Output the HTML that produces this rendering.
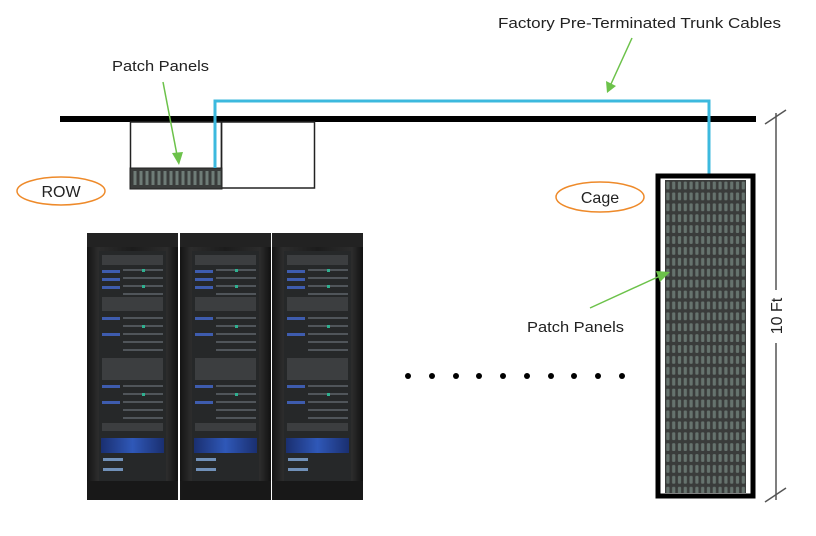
<!DOCTYPE html>
<html><head><meta charset="utf-8"><style>
html,body{margin:0;padding:0;background:#fff;}
svg{display:block;}
text{font-family:"Liberation Sans",sans-serif;fill:#222;}
</style></head><body>
<svg width="816" height="536" viewBox="0 0 816 536" xmlns="http://www.w3.org/2000/svg">
<defs>
  <pattern id="cage" x="665" y="180" width="5.8" height="10.9" patternUnits="userSpaceOnUse">
    <rect width="5.8" height="10.9" fill="#3a3c3b"/>
    <rect x="1.3" y="1.6" width="3.2" height="7.8" rx="1" fill="#66736e"/>
  </pattern>
  <pattern id="pp" x="132" y="168" width="6" height="20" patternUnits="userSpaceOnUse">
    <rect width="6" height="20" fill="#3a3c3b"/>
    <rect x="1.5" y="3" width="3" height="14" fill="#6f7c77"/>
  </pattern>
  <linearGradient id="rackg" x1="0" x2="1" y1="0" y2="0">
    <stop offset="0" stop-color="#141414"/><stop offset="0.12" stop-color="#2c2c2c"/>
    <stop offset="0.5" stop-color="#1c1c1c"/><stop offset="0.88" stop-color="#2c2c2c"/><stop offset="1" stop-color="#111"/>
  </linearGradient>
  <linearGradient id="blue" x1="0" x2="1"><stop offset="0" stop-color="#1a2f70"/><stop offset="0.5" stop-color="#2f58b8"/><stop offset="1" stop-color="#1a2f70"/></linearGradient>
  <g id="rack">
    <rect x="0" y="0" width="91" height="267" fill="url(#rackg)"/>
    <rect x="0" y="0" width="91" height="14" fill="#222"/>
    <rect x="12" y="18" width="67" height="230" fill="#262829"/>
    <g fill="#3c3e40">
      <rect x="15" y="22" width="61" height="10"/>
      <rect x="15" y="64" width="61" height="14"/>
      <rect x="15" y="125" width="61" height="22"/>
      <rect x="15" y="190" width="61" height="8"/>
    </g>
    <g fill="#3e5cae">
      <rect x="15" y="37" width="18" height="3"/><rect x="15" y="45" width="18" height="3"/><rect x="15" y="53" width="18" height="3"/>
      <rect x="15" y="84" width="18" height="3"/><rect x="15" y="100" width="18" height="3"/>
      <rect x="15" y="152" width="18" height="3"/><rect x="15" y="168" width="18" height="3"/>
    </g>
    <g fill="#50555a">
      <rect x="36" y="36" width="40" height="2"/><rect x="36" y="44" width="40" height="2"/><rect x="36" y="52" width="40" height="2"/><rect x="36" y="60" width="40" height="2"/>
      <rect x="36" y="84" width="40" height="2"/><rect x="36" y="92" width="40" height="2"/><rect x="36" y="100" width="40" height="2"/><rect x="36" y="108" width="40" height="2"/><rect x="36" y="116" width="40" height="2"/>
      <rect x="36" y="152" width="40" height="2"/><rect x="36" y="160" width="40" height="2"/><rect x="36" y="168" width="40" height="2"/><rect x="36" y="176" width="40" height="2"/><rect x="36" y="184" width="40" height="2"/>
    </g>
    <g fill="#2fb090"><rect x="55" y="36" width="3" height="3"/><rect x="55" y="52" width="3" height="3"/><rect x="55" y="92" width="3" height="3"/><rect x="55" y="160" width="3" height="3"/></g>
    <rect x="14" y="205" width="63" height="15" fill="url(#blue)"/>
    <rect x="16" y="225" width="20" height="3" fill="#7090b8"/><rect x="16" y="235" width="20" height="3" fill="#7090b8"/>
    <rect x="0" y="248" width="91" height="19" fill="#181818"/>
  </g>
</defs>

<rect x="60" y="116" width="696" height="6" fill="#000"/>
<rect x="130.5" y="122" width="91" height="66" fill="none" stroke="#222" stroke-width="1.5"/>
<rect x="221.5" y="122" width="93" height="66" fill="none" stroke="#222" stroke-width="1.5"/>
<rect x="130" y="168" width="92" height="21" fill="url(#pp)" stroke="#222" stroke-width="1"/>
<polyline points="215,168 215,101 709,101 709,175" fill="none" stroke="#3cb9de" stroke-width="3"/>

<rect x="658" y="176" width="95" height="320" fill="#fff" stroke="#000" stroke-width="5"/>
<rect x="665" y="180" width="81" height="313" fill="url(#cage)"/>

<use href="#rack" x="87" y="233"/>
<use href="#rack" x="180" y="233"/>
<use href="#rack" x="272" y="233"/>

<g fill="#000">
  <circle cx="408" cy="376" r="3"/><circle cx="432" cy="376" r="3"/><circle cx="456" cy="376" r="3"/><circle cx="479" cy="376" r="3"/><circle cx="503" cy="376" r="3"/>
  <circle cx="527" cy="376" r="3"/><circle cx="551" cy="376" r="3"/><circle cx="574" cy="376" r="3"/><circle cx="598" cy="376" r="3"/><circle cx="622" cy="376" r="3"/>
</g>

<ellipse cx="61" cy="191" rx="44" ry="14" fill="none" stroke="#ee8a2a" stroke-width="1.5"/>
<text x="61" y="197" font-size="16" text-anchor="middle">ROW</text>
<ellipse cx="600" cy="197" rx="44" ry="15" fill="none" stroke="#ee8a2a" stroke-width="1.5"/>
<text x="600" y="203" font-size="16" text-anchor="middle">Cage</text>

<text x="498" y="28" font-size="15" textLength="283" lengthAdjust="spacingAndGlyphs">Factory Pre-Terminated Trunk Cables</text>
<text x="112" y="71" font-size="15" textLength="97" lengthAdjust="spacingAndGlyphs">Patch Panels</text>
<text x="527" y="332" font-size="15" textLength="97" lengthAdjust="spacingAndGlyphs">Patch Panels</text>

<g stroke="#6cc24a" stroke-width="1.5" fill="#6cc24a">
  <line x1="163" y1="82" x2="177" y2="155"/>
  <polygon points="172,153 183,152 179,165" stroke="none"/>
  <line x1="632" y1="38" x2="611" y2="84"/>
  <polygon points="606,81 616,86 607,93" stroke="none"/>
  <line x1="590" y1="308" x2="660" y2="276"/>
  <polygon points="656,271 660,282 670,272" stroke="none"/>
</g>

<g stroke="#555" stroke-width="1.5">
  <line x1="776" y1="113" x2="776" y2="290"/>
  <line x1="776" y1="343" x2="776" y2="500"/>
  <line x1="765" y1="124" x2="786" y2="110"/>
  <line x1="765" y1="502" x2="786" y2="488"/>
</g>
<text x="0" y="0" font-size="16" text-anchor="middle" transform="translate(782,316) rotate(-90)">10 Ft</text>
</svg>
</body></html>
